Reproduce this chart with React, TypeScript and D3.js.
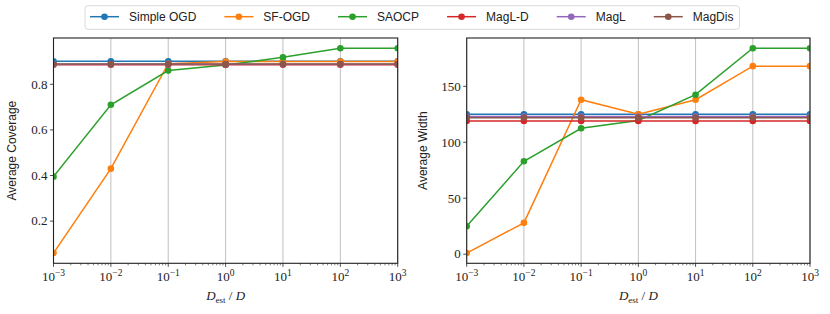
import React, { useEffect, useRef } from 'react';
import * as d3 from 'd3';

// x positions: D_est / D
const ratios = [1e-3, 1e-2, 1e-1, 1e0, 1e1, 1e2, 1e3];
const methods = ['Simple OGD', 'SF-OGD', 'SAOCP', 'MagL-D', 'MagL', 'MagDis'];
const colors = ['#1f77b4', '#ff7f0e', '#2ca02c', '#d62728', '#9467bd', '#8c564b'];

// average coverage
const covSimpleOGD = [0.901, 0.901, 0.901, 0.901, 0.901, 0.901, 0.901];
const covSFOGD = [0.06, 0.43, 0.89, 0.9, 0.9, 0.9, 0.9];
const covSAOCP = [0.395, 0.71, 0.86, 0.885, 0.918, 0.958, 0.958];
const covMagLD = [0.886, 0.886, 0.886, 0.886, 0.886, 0.886, 0.886];
const covMagL = [0.888, 0.888, 0.888, 0.888, 0.888, 0.888, 0.888];
const covMagDis = [0.889, 0.889, 0.889, 0.889, 0.889, 0.889, 0.889];

// average width
const widSimpleOGD = [125, 125, 125, 125, 125, 125, 125];
const widSFOGD = [1, 28, 138, 125, 138, 168, 168];
const widSAOCP = [25, 83, 112.5, 119.5, 142.5, 184, 184];
const widMagLD = [119, 119, 119, 119, 119, 119, 119];
const widMagL = [123, 123, 123, 123, 123, 123, 123];
const widMagDis = [122, 122, 122, 122, 122, 122, 122];

const coverage = [covSimpleOGD, covSFOGD, covSAOCP, covMagLD, covMagL, covMagDis];
const width = [widSimpleOGD, widSFOGD, widSAOCP, widMagLD, widMagL, widMagDis];

const xTicks = [-3, -2, -1, 0, 1, 2, 3];
const covTicks = [0.2, 0.4, 0.6, 0.8];
const widTicks = [0, 50, 100, 150];

const SANS = '"Liberation Sans", Arial, sans-serif';
const SERIF = '"Liberation Serif", "Times New Roman", serif';

const App: React.FC = () => {
  const svgRef = useRef<SVGSVGElement>(null);

  useEffect(() => {
    if (!svgRef.current) return;
    const svg = d3.select(svgRef.current);
    svg.selectAll('*').remove();

    const top = 38;
    const bottom = 263.3;

    const panels = [
      { left: 53.5, right: 397.7, series: coverage, ticks: covTicks, fmt: (v: number) => v.toFixed(1), label: 'Average Coverage', labelX: 16 },
      { left: 466.7, right: 810, series: width, ticks: widTicks, fmt: (v: number) => String(v), label: 'Average Width', labelX: 427 },
    ];

    panels.forEach((p, pi) => {
      const x = d3.scaleLog().domain([1e-3, 1e3]).range([p.left, p.right]);
      const all = p.series.flat();
      const lo = d3.min(all)!;
      const hi = d3.max(all)!;
      const pad = (hi - lo) * 0.05;
      const y = d3.scaleLinear().domain([lo - pad, hi + pad]).range([bottom, top]);

      const g = svg.append('g');
      const clipId = `clip-${pi}`;
      g.append('clipPath').attr('id', clipId)
        .append('rect')
        .attr('x', p.left).attr('y', top)
        .attr('width', p.right - p.left).attr('height', bottom - top);

      // vertical grid
      g.selectAll('.grid').data(xTicks).join('line')
        .attr('x1', d => x(Math.pow(10, d))).attr('x2', d => x(Math.pow(10, d)))
        .attr('y1', top).attr('y2', bottom)
        .attr('stroke', '#b0b0b0').attr('stroke-width', 0.8);

      // lines + markers
      const line = d3.line<number>()
        .x((_, i) => x(ratios[i]))
        .y(d => y(d));
      const plot = g.append('g').attr('clip-path', `url(#${clipId})`);
      p.series.forEach((vals, si) => {
        plot.append('path')
          .attr('d', line(vals))
          .attr('fill', 'none')
          .attr('stroke', colors[si])
          .attr('stroke-width', 1.5);
        plot.selectAll(null).data(vals).join('circle')
          .attr('cx', (_, i) => x(ratios[i]))
          .attr('cy', d => y(d))
          .attr('r', 3.3)
          .attr('fill', colors[si]);
      });

      // minor x ticks
      const minors: number[] = [];
      for (let e = -3; e < 3; e++) for (let m = 2; m <= 9; m++) minors.push(m * Math.pow(10, e));
      g.selectAll(null).data(minors).join('line')
        .attr('x1', d => x(d)).attr('x2', d => x(d))
        .attr('y1', bottom).attr('y2', bottom + 2)
        .attr('stroke', '#222').attr('stroke-width', 0.6);

      // major x ticks
      g.selectAll(null).data(xTicks).join('line')
        .attr('x1', d => x(Math.pow(10, d))).attr('x2', d => x(Math.pow(10, d)))
        .attr('y1', bottom).attr('y2', bottom + 3.5)
        .attr('stroke', '#222').attr('stroke-width', 0.8);

      const xl = g.selectAll(null).data(xTicks).join('text')
        .attr('x', d => x(Math.pow(10, d)))
        .attr('y', bottom + 18)
        .attr('text-anchor', 'middle')
        .attr('font-family', SERIF)
        .attr('font-size', 13)
        .attr('fill', '#222');
      xl.append('tspan').text('10');
      xl.append('tspan')
        .attr('dy', -5)
        .attr('font-size', 9.5)
        .text(d => (d < 0 ? '\u2212' + Math.abs(d) : String(d)));

      // y ticks
      g.selectAll(null).data(p.ticks).join('line')
        .attr('x1', p.left - 3.5).attr('x2', p.left)
        .attr('y1', d => y(d)).attr('y2', d => y(d))
        .attr('stroke', '#222').attr('stroke-width', 0.8);
      g.selectAll(null).data(p.ticks).join('text')
        .attr('x', p.left - 6)
        .attr('y', d => y(d))
        .attr('dy', '0.33em')
        .attr('text-anchor', 'end')
        .attr('font-family', SERIF)
        .attr('font-size', 13)
        .attr('fill', '#222')
        .text(d => p.fmt(d));

      // spines
      g.append('rect')
        .attr('x', p.left).attr('y', top)
        .attr('width', p.right - p.left).attr('height', bottom - top)
        .attr('fill', 'none').attr('stroke', '#222').attr('stroke-width', 1.1);

      // axis labels
      const lab = g.append('text')
        .attr('x', (p.left + p.right) / 2)
        .attr('y', bottom + 37)
        .attr('text-anchor', 'middle')
        .attr('font-family', SERIF)
        .attr('font-size', 13)
        .attr('fill', '#222');
      lab.append('tspan').attr('font-style', 'italic').text('D');
      lab.append('tspan').attr('font-size', 9).attr('dy', 3).text('est');
      lab.append('tspan').attr('dy', -3).text(' / ');
      lab.append('tspan').attr('font-style', 'italic').text('D');

      g.append('text')
        .attr('transform', `translate(${p.labelX},${(top + bottom) / 2}) rotate(-90)`)
        .attr('text-anchor', 'middle')
        .attr('font-family', SANS)
        .attr('font-size', 12)
        .attr('fill', '#222')
        .text(p.label);
    });

    // legend
    const lg = svg.append('g');
    const box = lg.append('rect')
      .attr('y', 5.7).attr('height', 23.6)
      .attr('rx', 3)
      .attr('fill', 'white').attr('fill-opacity', 0.8)
      .attr('stroke', '#d0d0d0').attr('stroke-width', 0.8);
    let cx = 90;
    const ly = 16.7;
    methods.forEach((m, i) => {
      lg.append('line')
        .attr('x1', cx).attr('x2', cx + 29)
        .attr('y1', ly).attr('y2', ly)
        .attr('stroke', colors[i]).attr('stroke-width', 1.5);
      lg.append('circle')
        .attr('cx', cx + 14.5).attr('cy', ly).attr('r', 3.3)
        .attr('fill', colors[i]);
      const t = lg.append('text')
        .attr('x', cx + 39).attr('y', ly)
        .attr('dy', '0.35em')
        .attr('font-family', SANS)
        .attr('font-size', 12)
        .attr('fill', '#222')
        .text(m);
      const w = (t.node() as SVGTextElement).getComputedTextLength();
      cx = cx + 39 + w + (i < methods.length - 1 ? 28 : 6);
    });
    box.attr('x', 85).attr('width', cx - 85);
  }, []);

  return (
    <svg
      ref={svgRef}
      width={830}
      height={314}
      style={{ position: 'absolute', left: 0, top: 0, background: 'white' }}
    />
  );
};

export default App;
